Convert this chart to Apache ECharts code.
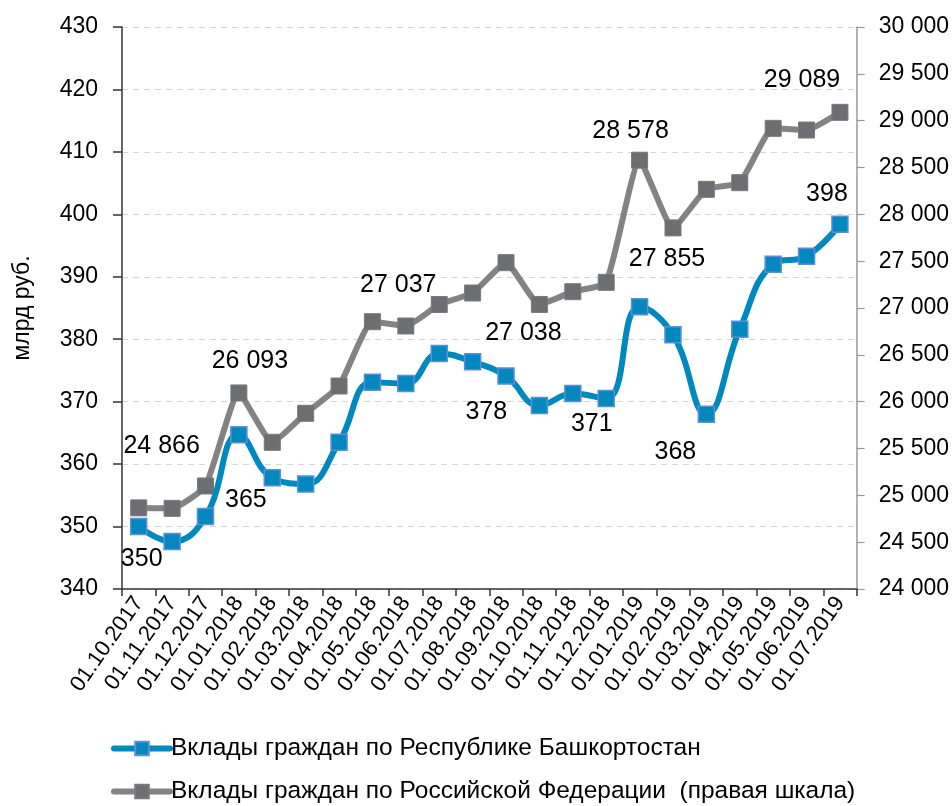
<!DOCTYPE html>
<html>
<head>
<meta charset="utf-8">
<script src="https://cdn.jsdelivr.net/npm/echarts@6/dist/echarts.min.js"></script>
<style>
html,body{margin:0;padding:0;background:#fff;}
#chart{width:952px;height:806px;}
</style>
</head>
<body>
<div id="chart"></div>
<script>
var categories = ['01.10.2017','01.11.2017','01.12.2017','01.01.2018','01.02.2018','01.03.2018','01.04.2018','01.05.2018','01.06.2018','01.07.2018','01.08.2018','01.09.2018','01.10.2018','01.11.2018','01.12.2018','01.01.2019','01.02.2019','01.03.2019','01.04.2019','01.05.2019','01.06.2019','01.07.2019'];
var bashkortostan = [350.0, 347.6, 351.6, 364.7, 357.8, 356.8, 363.5, 373.1, 372.9, 377.7, 376.4, 374.1, 369.4, 371.3, 370.5, 385.2, 380.7, 368.0, 381.6, 392.0, 393.3, 398.4];
var russia = [24866, 24861, 25100, 26093, 25566, 25876, 26167, 26854, 26808, 27037, 27160, 27484, 27038, 27174, 27274, 28578, 27855, 28267, 28338, 28918, 28900, 29089];
var seriesNames = ['Вклады граждан по Республике Башкортостан', 'Вклады граждан по Российской Федерации  (правая шкала)'];
var leftTicks = {min: 340, max: 430, interval: 10};
var rightTicks = {min: 24000, max: 30000, interval: 500};
var axisTitle = 'млрд руб.';
// which points carry a data label, with label offsets (style only)
var blueLabelIdx = [0, 3, 9, 13, 17, 21];
var blueLabelOff = [[3,33],[7,65],[47,59],[19,31],[-31,38],[-13,-30]];
var grayLabelIdx = [0, 3, 9, 12, 15, 16, 21];
var grayLabelOff = [[23,-62],[11,-32],[-41,-19],[-16,29],[-9,-29],[-6,31],[-38,-32]];

var FONT = '"Liberation Sans Narrow", "Arial Narrow", "Liberation Sans", Arial, sans-serif';
function spaced(v){ return String(Math.round(v)).replace(/\B(?=(\d{3})+(?!\d))/g, ' '); }

function buildData(vals, idxs, offs, fmt){
  return vals.map(function(v, i){
    var k = idxs.indexOf(i);
    if (k < 0) return {value: v};
    return {value: v, label: {show: true, position: 'inside', offset: offs[k], formatter: fmt(v)}};
  });
}

var BLUE = '#0088bf', GRAY = '#838383';
var chart = echarts.init(document.getElementById('chart'), null, {renderer: 'canvas'});
var labelStyle = {fontFamily: FONT, fontSize: 25, color: '#000'};
function legendFor(name, color, top){
  return {
    left: 106, top: top, orient: 'horizontal',
    itemWidth: 56, itemHeight: 17, selectedMode: false,
    textStyle: {fontFamily: FONT, fontSize: 24.5, color: '#000', padding: [0,0,0,-4]},
    data: [{name: name, lineStyle: {width: 6, color: color, cap: 'round'}}]
  };
}
chart.setOption({
  animation: false,
  textStyle: {fontFamily: FONT},
  grid: {left: 122, right: 95, top: 27, bottom: 217, containLabel: false},
  legend: [legendFor(seriesNames[0], BLUE, 731), legendFor(seriesNames[1], GRAY, 774)],
  xAxis: {
    type: 'category', data: categories, boundaryGap: true,
    axisLine: {lineStyle: {color: '#333', width: 1.5}},
    axisTick: {show: true, length: 7, lineStyle: {color: '#333', width: 1.5}},
    axisLabel: {rotate: 55, fontSize: 22, color: '#000', fontFamily: FONT, margin: 10, interval: 0}
  },
  yAxis: [{
    type: 'value', min: leftTicks.min, max: leftTicks.max, interval: leftTicks.interval,
    name: axisTitle, nameLocation: 'middle', nameGap: 88, nameRotate: 90,
    nameTextStyle: {fontFamily: FONT, fontSize: 23, color: '#000'},
    axisLine: {show: true, lineStyle: {color: '#333', width: 1.5}},
    axisTick: {show: true, length: 9, lineStyle: {color: '#333', width: 1.5}},
    axisLabel: {fontSize: 23, color: '#000', fontFamily: FONT, margin: 24},
    splitLine: {show: true, lineStyle: {color: '#d6d6d6', type: [6, 5], width: 1.2}}
  }, {
    type: 'value', min: rightTicks.min, max: rightTicks.max, interval: rightTicks.interval,
    position: 'right',
    axisLine: {show: true, lineStyle: {color: '#9a9a9a', width: 1.5}},
    axisTick: {show: true, length: 8, lineStyle: {color: '#9a9a9a', width: 1.2}},
    axisLabel: {fontSize: 23, color: '#000', fontFamily: FONT, margin: 22, formatter: function(v){return spaced(v);}},
    splitLine: {show: false}
  }],
  series: [{
    name: seriesNames[1], type: 'line', yAxisIndex: 1,
    data: buildData(russia, grayLabelIdx, grayLabelOff, spaced),
    smooth: 0.15,
    symbol: 'rect', symbolSize: 16,
    lineStyle: {color: GRAY, width: 6},
    itemStyle: {color: '#6d6e71', borderColor: '#7a7a7a', borderWidth: 1},
    label: labelStyle, z: 2
  }, {
    name: seriesNames[0], type: 'line', yAxisIndex: 0,
    data: buildData(bashkortostan, blueLabelIdx, blueLabelOff, function(v){return String(Math.round(v));}),
    smooth: 0.45,
    symbol: 'rect', symbolSize: 16,
    lineStyle: {color: BLUE, width: 6},
    itemStyle: {color: BLUE, borderColor: '#5b8fd8', borderWidth: 1.5},
    label: labelStyle, z: 3
  }]
});
</script>
</body>
</html>
